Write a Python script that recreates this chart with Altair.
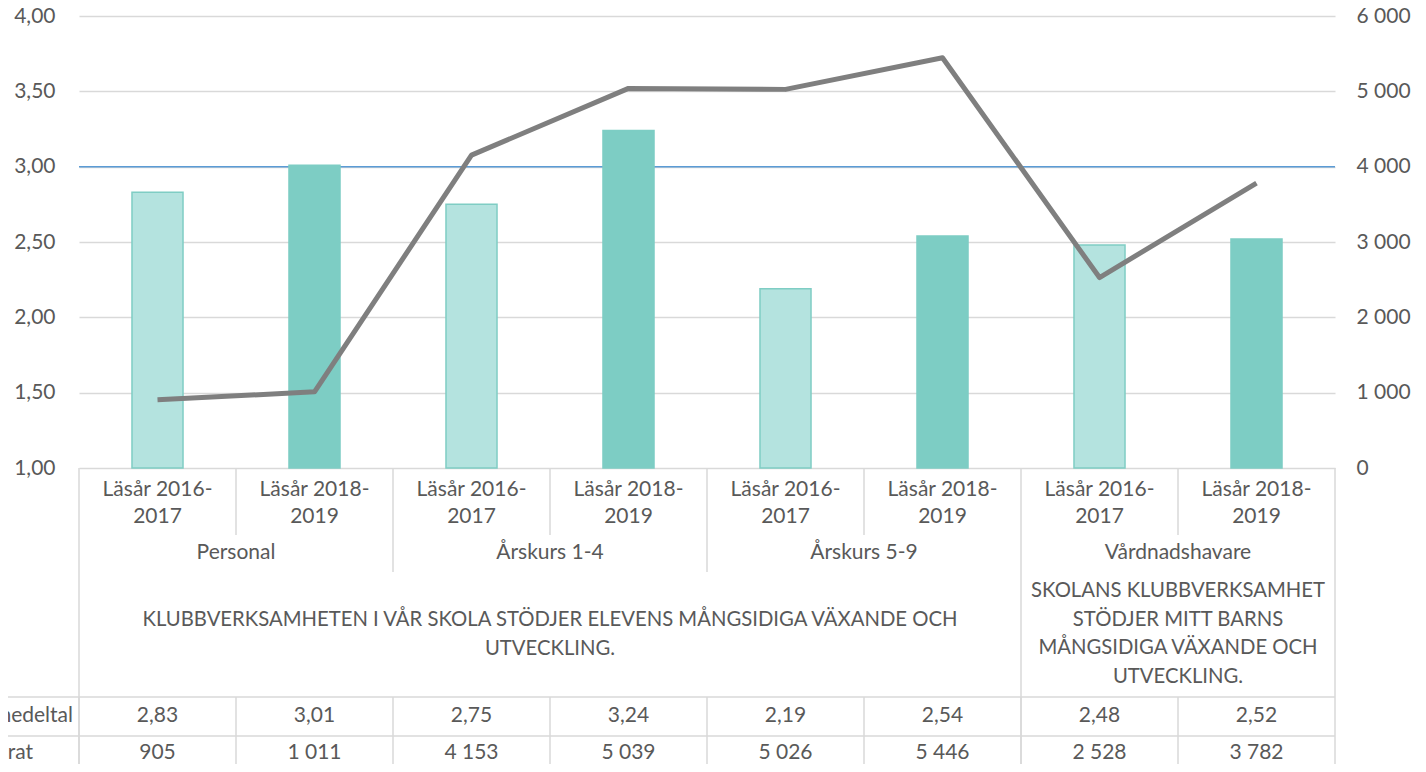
import altair as alt
import pandas as pd

# ---- data -------------------------------------------------------------
groups = ["Personal", "Årskurs 1-4", "Årskurs 5-9", "Vårdnadshavare"]
periods = ["Läsår 2016-2017", "Läsår 2018-2019"]
period_labels = ["Läsår 2016-\n2017", "Läsår 2018-\n2019"]
medeltal = [2.83, 3.01, 2.75, 3.24, 2.19, 2.54, 2.48, 2.52]
antal_svarat = [905, 1011, 4153, 5039, 5026, 5446, 2528, 3782]
questions = [
    "KLUBBVERKSAMHETEN I VÅR SKOLA STÖDJER ELEVENS MÅNGSIDIGA VÄXANDE OCH\nUTVECKLING.",
    "SKOLANS KLUBBVERKSAMHET\nSTÖDJER MITT BARNS\nMÅNGSIDIGA VÄXANDE OCH\nUTVECKLING.",
]
row_labels = ["Svarens medeltal", "Antal svarat"]
target = [3.0]
left_ticks = [1.0, 1.5, 2.0, 2.5, 3.0, 3.5, 4.0]
right_ticks = [0, 1000, 2000, 3000, 4000, 5000, 6000]

# ---- tables -----------------------------------------------------------
rows = []
i = 0
for g in groups:
    for pi, p in enumerate(periods):
        rows.append({
            "key": f"{g}|{p}",
            "idx": i,
            "group": g,
            "period": p,
            "plabel": period_labels[pi],
            "medeltal": medeltal[i],
            "antal": antal_svarat[i],
            "med_label": f"{medeltal[i]:.2f}".replace(".", ","),
            "antal_label": f"{antal_svarat[i]:,}".replace(",", " "),
        })
        i += 1
df = pd.DataFrame(rows)
keys = list(df["key"])

qdf_left = pd.DataFrame({"q": [questions[0]], "key": [keys[3]]})
qdf_right = pd.DataFrame({"q": [questions[1]], "key": [keys[7]]})
gdf = df[df["idx"] % 2 == 1][["key", "group"]]

W, H = 1256, 452
TXT = "#595959"
LINE = "#D9D9D9"
FONT = "Lato"
FS = 21

xscale = alt.Scale(domain=keys, paddingInner=0, paddingOuter=0)
X = alt.X("key:N", scale=xscale, axis=None, sort=keys)
XL = alt.X("key:N", scale=xscale, axis=None, sort=keys, bandPosition=0)
XR = alt.X("key:N", scale=xscale, axis=None, sort=keys, bandPosition=1)

base = alt.Chart(df)

target_rule = alt.Chart(pd.DataFrame({"t": target})).mark_rule(
    color="#5B9BD5", strokeWidth=1.5
).encode(y=alt.Y("t:Q", scale=alt.Scale(domain=[1, 4], nice=False, zero=False), axis=None))

bars = base.mark_bar(width={"band": 0.325}, strokeWidth=1.5).encode(
    x=X,
    y=alt.Y(
        "medeltal:Q",
        scale=alt.Scale(domain=[1, 4], nice=False, zero=False),
        axis=alt.Axis(
            values=left_ticks,
            labelExpr="replace(format(datum.value, '.2f'), '.', ',')",
            grid=True, gridColor=LINE, gridWidth=1.5,
            domain=False, ticks=False, labelPadding=24, title=None,
            labelFont=FONT, labelFontSize=FS, labelColor=TXT,
        ),
    ),
    y2=alt.datum(1),
    fill=alt.Fill("period:N", scale=alt.Scale(domain=periods, range=["#B4E3DF", "#7DCDC4"]), legend=None),
    stroke=alt.Stroke("period:N", scale=alt.Scale(domain=periods, range=["#7FCDC4", "#7DCDC4"]), legend=None),
)

line = base.mark_line(color="#7F7F7F", strokeWidth=5, strokeJoin="round", strokeCap="butt").encode(
    x=X,
    y=alt.Y(
        "antal:Q",
        scale=alt.Scale(domain=[0, 6000], nice=False),
        axis=alt.Axis(
            orient="right", values=right_ticks,
            labelExpr="replace(format(datum.value, ',d'), ',', ' ')",
            grid=False, domain=False, ticks=False, labelPadding=21, title=None,
            labelFont=FONT, labelFontSize=FS, labelColor=TXT, labelAlign="left",
        ),
    ),
)

tkw = dict(font=FONT, fontSize=FS, color=TXT, align="center", baseline="middle")
qkw = dict(font=FONT, fontSize=20.3, color=TXT, align="center", baseline="middle")

period_txt = base.mark_text(lineBreak="\n", lineHeight=27, **tkw).encode(
    x=X, y=alt.value(474), text="plabel:N")
group_txt = alt.Chart(gdf).mark_text(**tkw).encode(
    x=XL, y=alt.value(537), text="group:N")
q_left = alt.Chart(qdf_left).mark_text(lineBreak="\n", lineHeight=29, **qkw).encode(
    x=XL, y=alt.value(604), text="q:N")
q_right = alt.Chart(qdf_right).mark_text(lineBreak="\n", lineHeight=28.7, **qkw).encode(
    x=XL, y=alt.value(575), text="q:N")
med_txt = base.mark_text(**tkw).encode(x=X, y=alt.value(700), text="med_label:N")
ant_txt = base.mark_text(**tkw).encode(x=X, y=alt.value(737), text="antal_label:N")
lab_df = pd.DataFrame({"lab": row_labels, "row": [0, 1]})
lab1 = alt.Chart(lab_df[lab_df.row == 0]).mark_text(font=FONT, fontSize=FS, color=TXT, align="right", baseline="middle").encode(
    x=alt.value(-6), y=alt.value(700), text="lab:N")
lab2 = alt.Chart(lab_df[lab_df.row == 1]).mark_text(font=FONT, fontSize=FS, color=TXT, align="right", baseline="middle").encode(
    x=alt.value(-46), y=alt.value(737), text="lab:N")

rkw = dict(color=LINE, strokeWidth=1.5)
inner = df[df["idx"] % 2 == 1]
grp = df[df["idx"].isin([2, 4])]
outer = df[df["idx"].isin([0, 6])]
last = df[df["idx"] == 7]

v_inner_top = alt.Chart(inner).mark_rule(**rkw).encode(x=XL, y=alt.value(H), y2=alt.value(519))
v_grp_top = alt.Chart(grp).mark_rule(**rkw).encode(x=XL, y=alt.value(H), y2=alt.value(556))
v_table = base.mark_rule(**rkw).encode(x=XL, y=alt.value(681), y2=alt.value(760))
v_outer = alt.Chart(outer).mark_rule(**rkw).encode(x=XL, y=alt.value(H), y2=alt.value(760))
v_right = alt.Chart(last).mark_rule(**rkw).encode(x=XR, y=alt.value(H), y2=alt.value(760))
h1 = alt.Chart(lab_df[lab_df.row == 0]).mark_rule(**rkw).encode(
    x=alt.value(-90), x2=alt.value(W), y=alt.value(681))
h2 = alt.Chart(lab_df[lab_df.row == 1]).mark_rule(**rkw).encode(
    x=alt.value(-90), x2=alt.value(W), y=alt.value(720))

chart = alt.layer(
    target_rule, bars, line,
    v_inner_top, v_grp_top, v_table, v_outer, v_right, h1, h2,
    period_txt, group_txt, q_left, q_right, med_txt, ant_txt, lab1, lab2,
).resolve_scale(y="independent").properties(
    width=W, height=H,
    autosize=alt.AutoSizeParams(type="none"),
    padding={"left": 71, "top": 8, "right": 83, "bottom": 296},
    background="white",
).configure_view(stroke=None)

chart.save("out.html", embed_options={"renderer": "svg", "actions": False})
